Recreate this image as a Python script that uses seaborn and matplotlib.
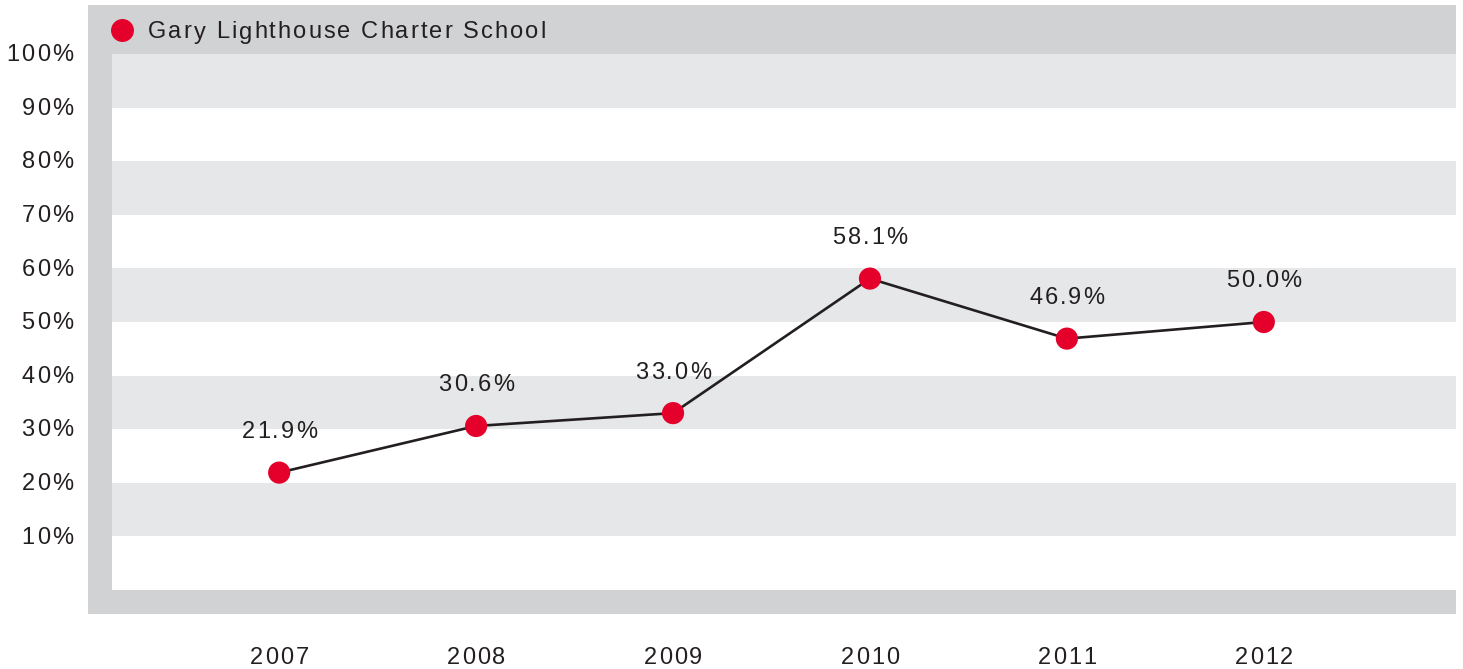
import numpy as np
import pandas as pd
import matplotlib.pyplot as plt
from matplotlib.patches import Rectangle
from matplotlib.transforms import ScaledTranslation, blended_transform_factory
from matplotlib.font_manager import FontProperties, findfont, get_font
import seaborn as sns

# Datos del gráfico
anios = [2007, 2008, 2009, 2010, 2011, 2012]
valores = [21.9, 30.6, 33.0, 58.1, 46.9, 50.0]
etiquetas = ["21.9%", "30.6%", "33.0%", "58.1%", "46.9%", "50.0%"]
serie = "Gary Lighthouse Charter School"
ticks_y = [10, 20, 30, 40, 50, 60, 70, 80, 90, 100]

ROJO = "#e4002b"
GRIS_MARCO = "#d1d2d4"
GRIS_BANDA = "#e6e7e8"
TEXTO = "#231f20"
FUENTE = "Liberation Sans"
TAM = 17
TRACK = 1.5  # espaciado entre letras, en puntos

sns.set_style("white")
plt.rcParams['font.family'] = [FUENTE, 'DejaVu Sans']

W, H = 1463, 669
fig = plt.figure(figsize=(W / 100, H / 100), dpi=100)
fig.patch.set_facecolor("white")


def texto_espaciado(x, y, s, transform, ha="left", fs=TAM, track=TRACK, dy=0.0):
    """Dibuja texto con espaciado entre letras (tracking), centrado en vertical."""
    fp = FontProperties(family=FUENTE, size=fs)
    font = get_font(findfont(fp))
    font.set_size(fs, 72)
    adv = [font.load_char(ord(c)).linearHoriAdvance / 65536 for c in s]
    total = sum(adv) + track * (len(s) - 1)
    pos = {"left": 0.0, "center": -total / 2, "right": -total}[ha]
    base = dy - 0.36 * fs
    for c, a in zip(s, adv):
        off = ScaledTranslation(pos / 72, base / 72, fig.dpi_scale_trans)
        fig.text(x, y, c, transform=transform + off, ha="left", va="baseline",
                 fontproperties=fp, color=TEXTO, zorder=5)
        pos += a + track


# marco gris
fig.patches.append(Rectangle((88 / W, 1 - 614 / H), (1456 - 88) / W, (614 - 5) / H,
                             transform=fig.transFigure, facecolor=GRIS_MARCO,
                             edgecolor="none", zorder=-1))

ax = fig.add_axes([112 / W, 1 - 590 / H, (1456 - 112) / W, (590 - 54) / H])
ax.set_facecolor("white")

# bandas alternas
for lo in range(10, 100, 20):
    ax.axhspan(lo, lo + 10, color=GRIS_BANDA, lw=0, zorder=0)

df = pd.DataFrame({"anio": anios, "valor": valores})
sns.lineplot(data=df, x="anio", y="valor", ax=ax, color=TEXTO, lw=1.9, zorder=2)
sns.scatterplot(data=df, x="anio", y="valor", ax=ax, color=ROJO, s=255,
                edgecolor="none", zorder=3)

ax.set_xlim(2006.151, 2012.976)
ax.set_ylim(0, 100)
ax.set_xticks([])
ax.set_yticks([])
ax.set_xlabel("")
ax.set_ylabel("")
for s in ax.spines.values():
    s.set_visible(False)

# etiquetas de datos
for x, y, t in zip(anios, valores, etiquetas):
    texto_espaciado(x, y, t, ax.transData, ha="center", dy=31)

# etiquetas de ejes (fuera del marco)
tr_y = blended_transform_factory(fig.transFigure, ax.transData)
for v in ticks_y:
    texto_espaciado(73 / W, v, f"{v}%", tr_y, ha="right", dy=1)

tr_x = blended_transform_factory(ax.transData, fig.transFigure)
for a in anios:
    texto_espaciado(a, 1 - 655 / H, str(a), tr_x, ha="center")

# leyenda en la barra superior
fig.add_artist(plt.Line2D([122 / W], [1 - 30 / H], marker="o", markersize=15.5,
                          color=ROJO, transform=fig.transFigure, lw=0))
texto_espaciado(148 / W, 1 - 30 / H, serie, fig.transFigure, ha="left")

fig.savefig("out.png", dpi=100)
